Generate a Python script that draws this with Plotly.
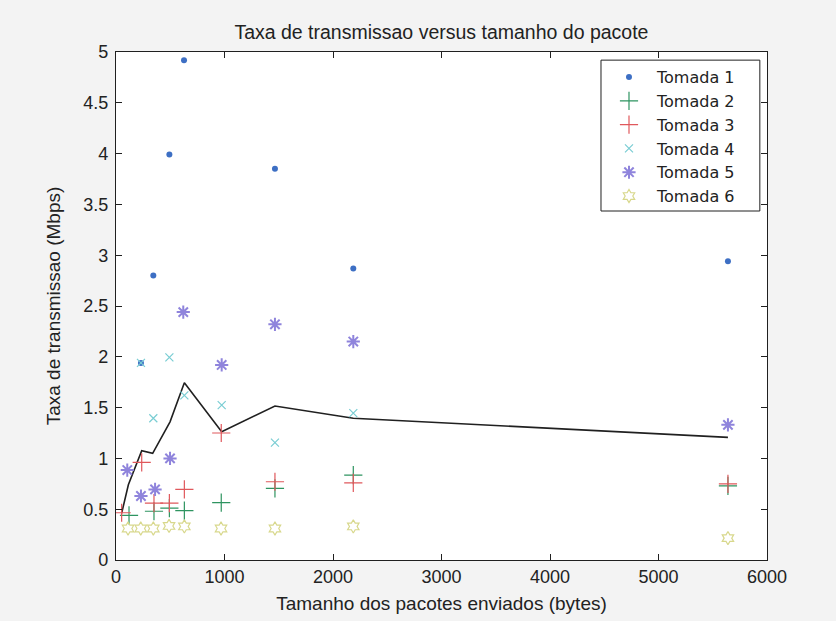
import plotly.graph_objects as go

# Packet size (bytes) for each socket series
x_t1 = [230, 344, 492, 627, 1465, 2187, 5640]
y_t1 = [1.94, 2.80, 3.99, 4.92, 3.85, 2.87, 2.94]

x_t2 = [120, 350, 492, 630, 970, 1465, 2187, 5640]
y_t2 = [0.44, 0.48, 0.51, 0.485, 0.565, 0.705, 0.835, 0.73]

x_t3 = [52, 237, 350, 492, 630, 970, 1465, 2187, 5640]
y_t3 = [0.465, 0.96, 0.56, 0.56, 0.695, 1.25, 0.77, 0.76, 0.75]

x_t4 = [230, 344, 492, 630, 974, 1465, 2187]
y_t4 = [1.94, 1.395, 1.995, 1.62, 1.525, 1.155, 1.445]

x_t5 = [104, 230, 360, 498, 620, 974, 1465, 2187, 5640]
y_t5 = [0.885, 0.63, 0.695, 1.0, 2.44, 1.92, 2.32, 2.15, 1.33]

x_t6 = [111, 228, 344, 489, 630, 968, 1465, 2187, 5640]
y_t6 = [0.31, 0.31, 0.31, 0.335, 0.33, 0.31, 0.31, 0.33, 0.215]

# Mean transmission rate curve
x_mean = [52, 114, 237, 338, 498, 630, 974, 1465, 2187, 5640]
y_mean = [0.46, 0.74, 1.075, 1.05, 1.36, 1.745, 1.263, 1.516, 1.395, 1.207]

series = [
    ("Tomada 1", x_t1, y_t1, dict(symbol="circle", size=6, color="#3d6fc4")),
    ("Tomada 2", x_t2, y_t2, dict(symbol="cross-thin", size=13, color="#2e9460",
                                  line=dict(width=1.2, color="#2e9460"))),
    ("Tomada 3", x_t3, y_t3, dict(symbol="cross-thin", size=13, color="#e0585c",
                                  line=dict(width=1.2, color="#e0585c"))),
    ("Tomada 4", x_t4, y_t4, dict(symbol="x-thin", size=8, color="#79cdd3",
                                  line=dict(width=1.2, color="#79cdd3"))),
    ("Tomada 5", x_t5, y_t5, dict(symbol="asterisk", size=11, color="#8f84dc",
                                  line=dict(width=2, color="#8f84dc"))),
    ("Tomada 6", x_t6, y_t6, dict(symbol="hexagram-open", size=10, color="#d8d88c",
                                  line=dict(width=1.2, color="#d8d88c"))),
]

fig = go.Figure()

fig.add_trace(go.Scatter(x=x_mean, y=y_mean, mode="lines", showlegend=False,
                         line=dict(color="#202020", width=1.6)))

for name, xs, ys, mk in series:
    fig.add_trace(go.Scatter(x=xs, y=ys, mode="markers", name=name, marker=mk))

font_family = "Liberation Sans, Arial, sans-serif"

axis_common = dict(
    showline=True, linecolor="#202020", linewidth=1.2, mirror="ticks",
    ticks="inside", ticklen=6, tickcolor="#202020",
    showgrid=False, zeroline=False,
    tickfont=dict(family=font_family, size=18, color="#222222"),
)

fig.update_xaxes(range=[0, 6000], tickvals=[0, 1000, 2000, 3000, 4000, 5000, 6000],
                 title=dict(text="Tamanho dos pacotes enviados (bytes)", standoff=10,
                            font=dict(family=font_family, size=19, color="#222222")),
                 **axis_common)
fig.update_yaxes(range=[0, 5], tickvals=[0, 0.5, 1, 1.5, 2, 2.5, 3, 3.5, 4, 4.5, 5],
                 ticktext=["0", "0.5", "1", "1.5", "2", "2.5", "3", "3.5", "4", "4.5", "5"],
                 ticklabelstandoff=3,
                 title=dict(text="Taxa de transmissao (Mbps)", standoff=17,
                            font=dict(family=font_family, size=19, color="#222222")),
                 **axis_common)

# Framed box behind the legend entries
fig.add_shape(type="rect", xref="paper", yref="paper",
              x0=0.745, x1=0.989, y0=0.687, y1=0.984,
              fillcolor="#ffffff", line=dict(color="#202020", width=1), layer="above")

fig.update_layout(
    width=836, height=621,
    margin=dict(l=116, r=69, t=52, b=61),
    paper_bgcolor="#f3f3f3", plot_bgcolor="#ffffff",
    title=dict(text="Taxa de transmissao versus tamanho do pacote",
               x=0.528, xanchor="center", y=1 - 32 / 621, yanchor="middle",
               font=dict(family=font_family, size=19.5, color="#222222")),
    legend=dict(x=0.745, y=0.984, xanchor="left", yanchor="top",
                bgcolor="rgba(0,0,0,0)", borderwidth=0,
                font=dict(family="DejaVu Sans, sans-serif", size=16, color="#222222"),
                tracegroupgap=0, itemwidth=46),
    showlegend=True,
)

fig.write_html("out.html")
